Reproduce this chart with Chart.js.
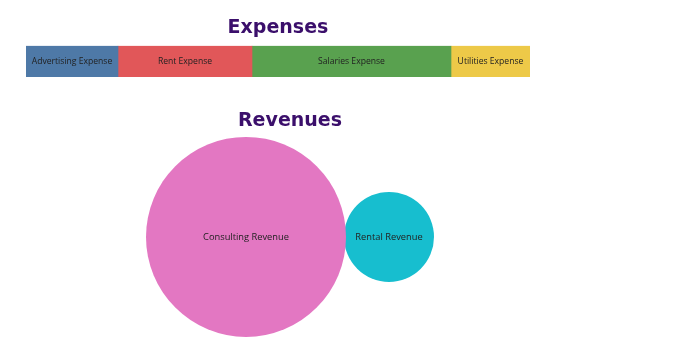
<!DOCTYPE html>
<html>
<head>
<meta charset="utf-8">
<script src="https://cdn.jsdelivr.net/npm/chart.js@4.4.1/dist/chart.umd.min.js"></script>
<style>
  html, body { margin: 0; padding: 0; background: #ffffff; }
  body { width: 700px; height: 345px; position: relative; overflow: hidden; }
  .box { position: absolute; }
  #expBox { left: 26px; top: 0px; width: 504px; height: 77px; }
  #revBox { left: 146px; top: 95px; width: 288px; height: 247px; }
</style>
</head>
<body>
<div class="box" id="expBox"><canvas id="expenses"></canvas></div>
<div class="box" id="revBox"><canvas id="revenues"></canvas></div>
<script>
// ---- Data ----
const expenseCategories = ["Advertising Expense", "Rent Expense", "Salaries Expense", "Utilities Expense"];
const expenseValues = [92, 134, 199, 79];
const expenseColors = ["#4e79a7", "#e15759", "#59a14f", "#edc948"];

const revenueCategories = ["Consulting Revenue", "Rental Revenue"];
const revenueValues = [10000, 2025];
const revenueColors = ["#e377c2", "#17becf"];

const titleColor = "#3b0f6b";
const labelColor = "#222222";

// ---- Expenses: stacked horizontal bar ----
const expTotal = expenseValues.reduce((a, b) => a + b, 0);

const barLabels = {
  id: "barLabels",
  afterDatasetsDraw(chart) {
    const ctx = chart.ctx;
    ctx.save();
    ctx.font = "8.6px 'Open Sans', sans-serif";
    ctx.fillStyle = labelColor;
    ctx.textAlign = "center";
    ctx.textBaseline = "middle";
    chart.data.datasets.forEach((ds, i) => {
      const el = chart.getDatasetMeta(i).data[0];
      const x = (el.x + el.base) / 2;
      ctx.fillText(ds.label, x, el.y);
    });
    ctx.restore();
  }
};

new Chart(document.getElementById("expenses"), {
  type: "bar",
  data: {
    labels: [""],
    datasets: expenseCategories.map((c, i) => ({
      label: c,
      data: [expenseValues[i]],
      backgroundColor: expenseColors[i],
      borderWidth: 0,
      barPercentage: 1,
      categoryPercentage: 1
    }))
  },
  options: {
    indexAxis: "y",
    responsive: true,
    maintainAspectRatio: false,
    animation: false,
    layout: { padding: 0, autoPadding: false },
    scales: {
      x: { stacked: true, display: false, min: 0, max: expTotal },
      y: { stacked: true, display: false }
    },
    plugins: {
      legend: { display: false },
      tooltip: { enabled: false },
      title: {
        display: true,
        text: "Expenses",
        color: titleColor,
        font: { family: "'DejaVu Sans', sans-serif", size: 19, weight: "bold", lineHeight: 1.2 },
        padding: { top: 17, bottom: 6 }
      }
    }
  },
  plugins: [barLabels]
});

// ---- Revenues: packed bubbles ----
const radiusScale = 1.0; // px per sqrt(value unit)
const bubbleGap = -2;
const radii = revenueValues.map(v => Math.sqrt(v) * radiusScale);
const centers = [];
let cursor = 0;
radii.forEach((r, i) => {
  centers.push(cursor + r);
  cursor += 2 * r + bubbleGap;
});
const revWidth = 288;

const bubbleLabels = {
  id: "bubbleLabels",
  afterDatasetsDraw(chart) {
    const ctx = chart.ctx;
    ctx.save();
    ctx.font = "9.3px 'Open Sans', sans-serif";
    ctx.fillStyle = labelColor;
    ctx.textAlign = "center";
    ctx.textBaseline = "middle";
    chart.data.datasets.forEach((ds, i) => {
      const el = chart.getDatasetMeta(i).data[0];
      ctx.fillText(ds.label, el.x, el.y);
    });
    ctx.restore();
  }
};

new Chart(document.getElementById("revenues"), {
  type: "bubble",
  data: {
    datasets: revenueCategories.map((c, i) => ({
      label: c,
      data: [{ x: centers[i], y: 0, r: radii[i] }],
      backgroundColor: revenueColors[i],
      borderWidth: 0,
      hoverRadius: 0,
      clip: false
    }))
  },
  options: {
    responsive: true,
    maintainAspectRatio: false,
    animation: false,
    layout: { padding: { bottom: 5 }, autoPadding: false },
    scales: {
      x: { type: "linear", display: false, min: 0, max: revWidth },
      y: { type: "linear", display: false, min: -1, max: 1 }
    },
    plugins: {
      legend: { display: false },
      tooltip: { enabled: false },
      title: {
        display: true,
        text: "Revenues",
        color: titleColor,
        font: { family: "'DejaVu Sans', sans-serif", size: 19, weight: "bold", lineHeight: 1.2 },
        padding: { top: 15, bottom: 4 }
      }
    }
  },
  plugins: [bubbleLabels]
});
</script>
</body>
</html>
